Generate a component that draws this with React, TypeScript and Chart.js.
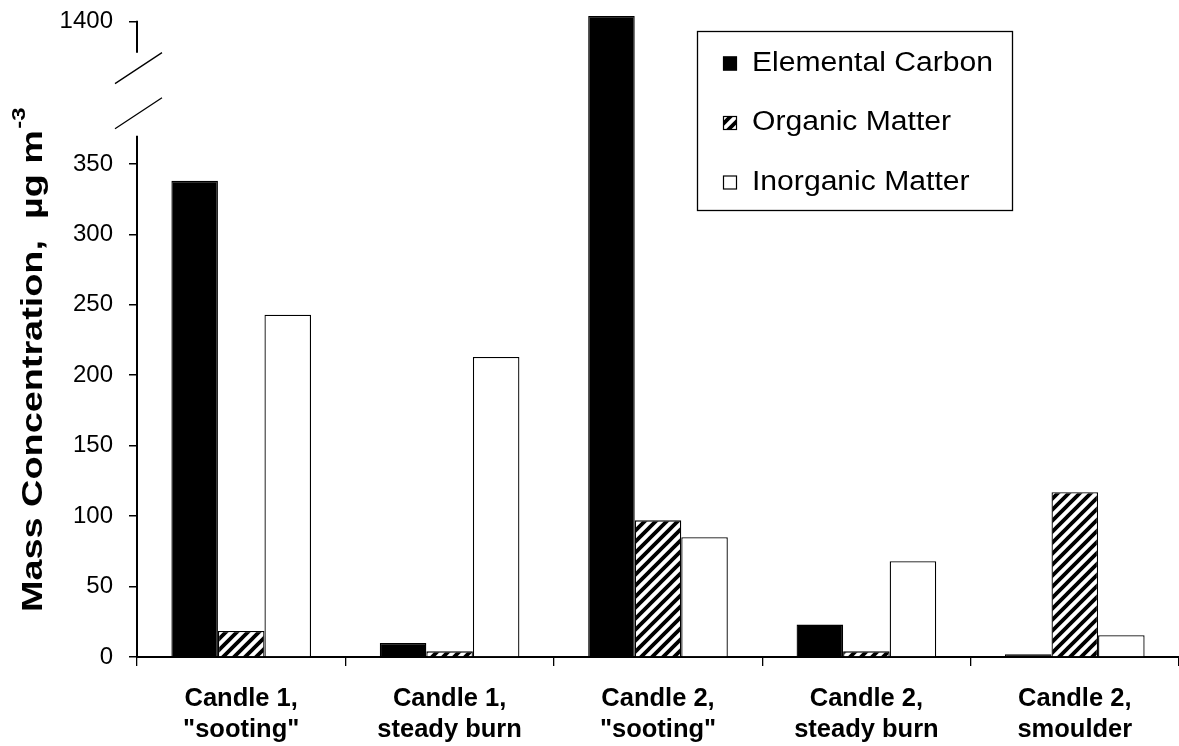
import React, { useEffect, useRef } from 'react';
import { Chart, registerables, LinearScale } from 'chart.js';

// ---------- data ----------
const categories: string[][] = [
  ['Candle 1,', '"sooting"'],
  ['Candle 1,', 'steady burn'],
  ['Candle 2,', '"sooting"'],
  ['Candle 2,', 'steady burn'],
  ['Candle 2,', 'smoulder'],
];
const seriesNames = ['Elemental Carbon', 'Organic Matter', 'Inorganic Matter'];
const elementalCarbon = [338, 10, 1404, 23, 2];
const organicMatter = [18.5, 4, 97, 4, 117];
const inorganicMatter = [243, 213, 85, 68, 15.5];
const yTicks = [0, 50, 100, 150, 200, 250, 300, 350, 1400];
const yAxisTitle = 'Mass Concentration,  \u00B5g m';
const yAxisTitleSup = '-3';

// broken-axis configuration
const BREAK_LOW = 370;
const BREAK_HIGH = 1378;
const BREAK_GAP = 59;
const Y_MAX = 1404;

const FONT = 'Arial, "Liberation Sans", sans-serif';

function toVirtual(v: number) {
  if (v <= BREAK_LOW) return v;
  if (v >= BREAK_HIGH) return BREAK_LOW + BREAK_GAP + (v - BREAK_HIGH);
  return BREAK_LOW + ((v - BREAK_LOW) / (BREAK_HIGH - BREAK_LOW)) * BREAK_GAP;
}
function fromVirtual(u: number) {
  if (u <= BREAK_LOW) return u;
  if (u >= BREAK_LOW + BREAK_GAP) return u - BREAK_LOW - BREAK_GAP + BREAK_HIGH;
  return BREAK_LOW + ((u - BREAK_LOW) / BREAK_GAP) * (BREAK_HIGH - BREAK_LOW);
}

class BrokenLinearScale extends (LinearScale as any) {
  static id = 'brokenLinear';
  static defaults = (LinearScale as any).defaults;
  buildTicks() {
    super.buildTicks();
    return yTicks.map((value) => ({ value }));
  }
  getPixelForValue(value: number) {
    if (value === null || value === undefined || isNaN(value)) return NaN;
    const lo = toVirtual(this.min);
    const hi = toVirtual(this.max);
    return this.getPixelForDecimal((toVirtual(value) - lo) / (hi - lo));
  }
  getValueForPixel(pixel: number) {
    const lo = toVirtual(this.min);
    const hi = toVirtual(this.max);
    return fromVirtual(lo + this.getDecimalForPixel(pixel) * (hi - lo));
  }
}

Chart.register(...registerables, BrokenLinearScale as any);

function makeHatch(): CanvasPattern | string {
  const s = 11;
  const c = document.createElement('canvas');
  c.width = s;
  c.height = s;
  const ctx = c.getContext('2d');
  if (!ctx) return '#888';
  ctx.fillStyle = '#fff';
  ctx.fillRect(0, 0, s, s);
  ctx.strokeStyle = '#000';
  ctx.lineWidth = 3.8;
  ctx.beginPath();
  for (const o of [-s, 0, s]) {
    ctx.moveTo(o - 2, s + 2);
    ctx.lineTo(o + s + 2, -2);
  }
  ctx.stroke();
  return ctx.createPattern(c, 'repeat') || '#888';
}

const decorPlugin = {
  id: 'decor',
  afterDraw(chart: any) {
    const ctx: CanvasRenderingContext2D = chart.ctx;
    const y = chart.scales.y;
    const ax = chart.chartArea.left;
    const y0 = y.getPixelForValue(0);
    const yLow = y.getPixelForValue(BREAK_LOW);
    const yHigh = y.getPixelForValue(BREAK_HIGH);
    const yTop = y.getPixelForValue(1400) - 1;
    ctx.save();
    // broken y axis line
    ctx.strokeStyle = '#000';
    ctx.lineWidth = 2;
    ctx.beginPath();
    ctx.moveTo(ax, y0);
    ctx.lineTo(ax, yLow);
    ctx.moveTo(ax, yHigh);
    ctx.lineTo(ax, yTop);
    ctx.stroke();
    // break marks
    ctx.lineWidth = 1.3;
    ctx.beginPath();
    ctx.moveTo(ax - 22, yLow - 7);
    ctx.lineTo(ax + 25, yLow - 38);
    ctx.moveTo(ax - 22, yHigh + 31);
    ctx.lineTo(ax + 25, yHigh);
    ctx.stroke();

    // y-axis title (rotated, with superscript)
    ctx.save();
    ctx.translate(42, 612);
    ctx.rotate(-Math.PI / 2);
    ctx.font = `bold 30px ${FONT}`;
    const w = ctx.measureText(yAxisTitle).width;
    ctx.scale(482 / w, 1);
    ctx.fillStyle = '#000';
    ctx.textAlign = 'left';
    ctx.textBaseline = 'alphabetic';
    ctx.fillText(yAxisTitle, 0, 0);
    ctx.font = `bold 19px ${FONT}`;
    ctx.fillText(yAxisTitleSup, w + 1, -17);
    ctx.restore();

    // legend
    ctx.lineWidth = 1.3;
    ctx.strokeStyle = '#000';
    ctx.fillStyle = '#fff';
    ctx.fillRect(697.5, 31.5, 315, 179);
    ctx.strokeRect(697.5, 31.5, 315, 179);
    chart.data.datasets.forEach((ds: any, i: number) => {
      const cy = 63.5 + i * 59.5;
      ctx.fillStyle = ds.backgroundColor;
      ctx.fillRect(723, cy - 7, 14, 14);
      ctx.lineWidth = 1.2;
      ctx.strokeRect(723.5, cy - 6.5, 13, 13);
      ctx.save();
      ctx.translate(752, cy);
      ctx.font = `27px ${FONT}`;
      const tw = ctx.measureText(seriesNames[0]).width;
      ctx.scale(241 / tw, 1);
      ctx.fillStyle = '#000';
      ctx.textAlign = 'left';
      ctx.textBaseline = 'middle';
      ctx.fillText(ds.label, 0, 0);
      ctx.restore();
    });
    ctx.restore();
  },
};

export default function App() {
  const ref = useRef<HTMLCanvasElement | null>(null);
  useEffect(() => {
    if (!ref.current) return;
    const hatch = makeHatch();
    const chart = new Chart(ref.current, {
      type: 'bar',
      data: {
        labels: categories as any,
        datasets: [
          { label: seriesNames[0], data: elementalCarbon, backgroundColor: '#000', borderColor: '#000', borderWidth: 1.3 },
          { label: seriesNames[1], data: organicMatter, backgroundColor: hatch as any, borderColor: '#000', borderWidth: 1.3 },
          { label: seriesNames[2], data: inorganicMatter, backgroundColor: '#fff', borderColor: '#000', borderWidth: 1.3 },
        ],
      },
      options: {
        responsive: true,
        maintainAspectRatio: false,
        animation: false,
        layout: { padding: { top: 16, left: 0, right: 0, bottom: 0 } },
        datasets: { bar: { categoryPercentage: 0.67, barPercentage: 1 } },
        plugins: { legend: { display: false }, tooltip: { enabled: false }, title: { display: false } },
        scales: {
          x: {
            type: 'category',
            offset: true,
            grid: { display: true, offset: true, drawOnChartArea: false, drawTicks: true, tickLength: 9, color: '#000', lineWidth: 1.3 },
            border: { display: true, color: '#000', width: 2 },
            ticks: {
              color: '#000',
              font: { family: FONT, size: 25.5, weight: 'bold', lineHeight: 1.23 },
              padding: 17,
              maxRotation: 0,
              autoSkip: false,
            },
            afterFit: (s: any) => { s.height = 89; s.paddingLeft = 0; s.paddingRight = 0; },
          },
          y: {
            type: 'brokenLinear' as any,
            min: 0,
            max: Y_MAX,
            bounds: 'data',
            grid: { display: true, drawOnChartArea: false, drawTicks: true, tickLength: 8, color: '#000', lineWidth: 1.5 },
            border: { display: false },
            ticks: {
              autoSkip: false,
              color: '#000',
              font: { family: FONT, size: 24 },
              padding: 16,
              callback: (v: any) => String(v),
            },
            afterFit: (s: any) => { s.width = 137; s.paddingTop = 0; s.paddingBottom = 0; },
          } as any,
        },
      } as any,
      plugins: [decorPlugin],
    });
    return () => chart.destroy();
  }, []);
  return (
    <div style={{ position: 'fixed', left: 0, top: 0, width: 1179, height: 746, background: '#fff' }}>
      <canvas ref={ref} style={{ display: 'block' }} />
    </div>
  );
}
